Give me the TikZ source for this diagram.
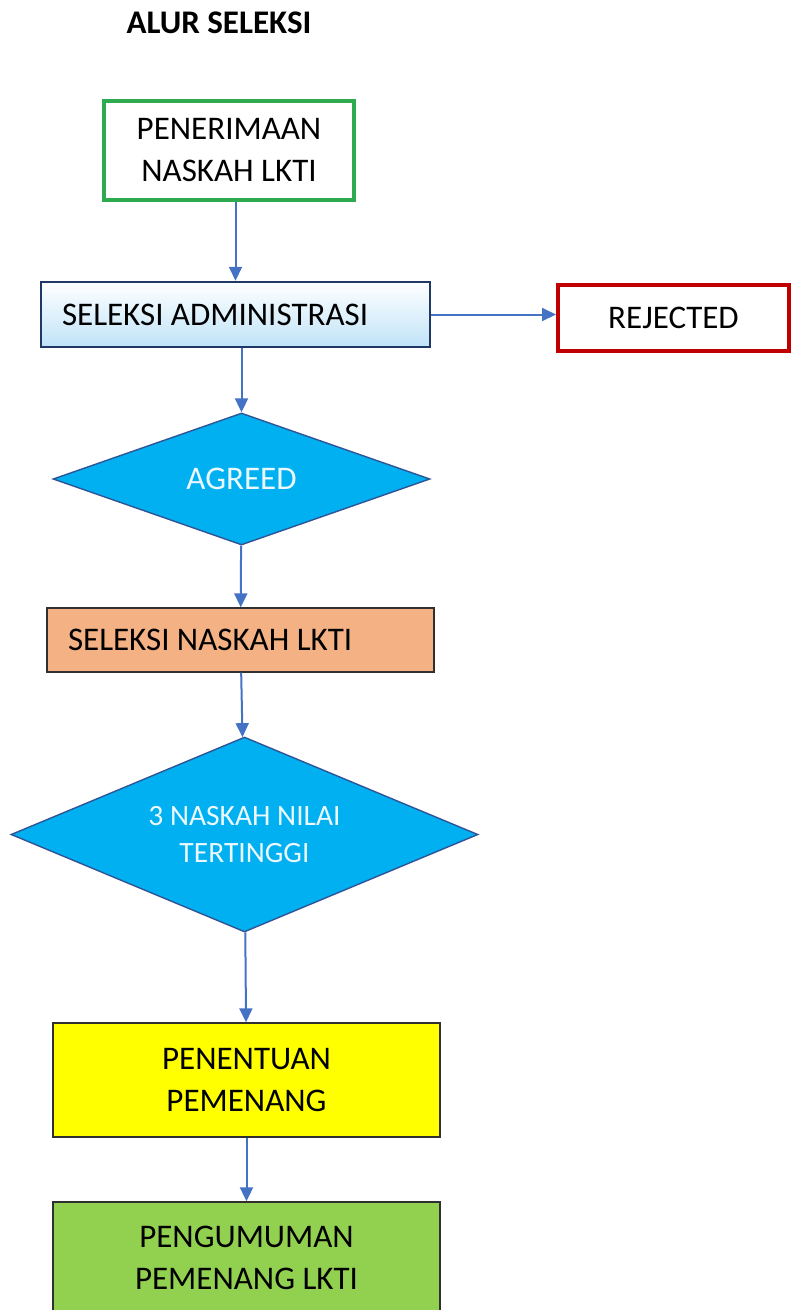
\documentclass[tikz,border=0pt]{standalone}
\usepackage{fontspec}
\setmainfont{Carlito}
\usepackage{xcolor}
\usepackage{tikz}
\usetikzlibrary{arrows.meta,shapes.geometric,positioning}
\newcommand\huruf{\fontsize{33}{42}\selectfont}

\begin{document}
\begin{tikzpicture}[x=1pt,y=-1pt,
    kotak/.style={draw=garis,line width=1.4pt,minimum width=387pt,inner sep=0pt,align=center,font=\huruf},
    belah/.style={diamond,draw=biru tua,fill=biru,line width=1.4pt,inner sep=0pt,align=center,text=white!92!cyan},
    panah/.style={draw=alur,line width=2pt,-{Triangle[length=14pt,width=13pt]}}]
  \definecolor{alur}{HTML}{4472C4}
  \definecolor{garis}{HTML}{303030}
  \definecolor{hijau}{HTML}{2EAA50}
  \definecolor{navy}{HTML}{1F3864}
  \definecolor{biru muda}{HTML}{BFE3F8}
  \definecolor{merah}{HTML}{C00000}
  \definecolor{biru}{HTML}{00B0F0}
  \definecolor{biru tua}{HTML}{2F5597}
  \definecolor{salem}{HTML}{F4B183}
  \definecolor{kuning}{HTML}{FFFF00}
  \definecolor{hijau muda}{HTML}{92D050}
  \useasboundingbox (0,0) rectangle (791,1310);
  \clip (0,0) rectangle (791,1310);
  % judul
  \node[font=\bfseries\huruf,anchor=base] (judul) at (219,33) {ALUR SELEKSI};
  % tahap seleksi
  \node[kotak,draw=hijau,line width=4pt,minimum width=250pt,minimum height=99pt] (terima) at (229,150.5) {PENERIMAAN\\NASKAH LKTI};
  \node[kotak,draw=navy,line width=2.5pt,top color=white,bottom color=biru muda,text width=347pt,inner xsep=21pt,minimum height=65pt,align=flush left] (admin) at (235.5,314.5) {SELEKSI ADMINISTRASI};
  \node[kotak,draw=merah,line width=4pt,minimum width=231pt,minimum height=66pt] (tolak) at (673.5,318) {REJECTED};
  \node[belah,aspect=2.86,minimum width=377pt,minimum height=132pt,font=\huruf] (setuju) at (241.5,479) {AGREED};
  \node[kotak,fill=salem,text width=345pt,inner xsep=21pt,minimum height=64pt,align=flush left] (naskah) at (240.5,640) {SELEKSI NASKAH LKTI};
  \node[belah,aspect=2.4,minimum width=467pt,minimum height=195pt,font=\fontsize{29.5}{37}\selectfont] (nilai) at (244.5,834.5) {3 NASKAH NILAI\\TERTINGGI};
  \node[kotak,fill=kuning,minimum height=114pt] (tentu) at (246.5,1080) {PENENTUAN\\PEMENANG};
  \node[kotak,fill=hijau muda,minimum height=112pt] (umum) at (246.5,1258) {PENGUMUMAN\\PEMENANG LKTI};
  % panah alur
  \draw[panah] (admin.north |- terima.south) -- (admin);
  \draw[panah] (admin.east) -- (admin.east -| tolak.west);
  \draw[panah] (setuju.north |- admin.south) -- (setuju);
  \draw[panah] (setuju) -- (naskah);
  \draw[panah] (naskah) -- (nilai);
  \draw[panah] (nilai) -- (tentu);
  \draw[panah] (tentu) -- (umum);
\end{tikzpicture}
\end{document}
